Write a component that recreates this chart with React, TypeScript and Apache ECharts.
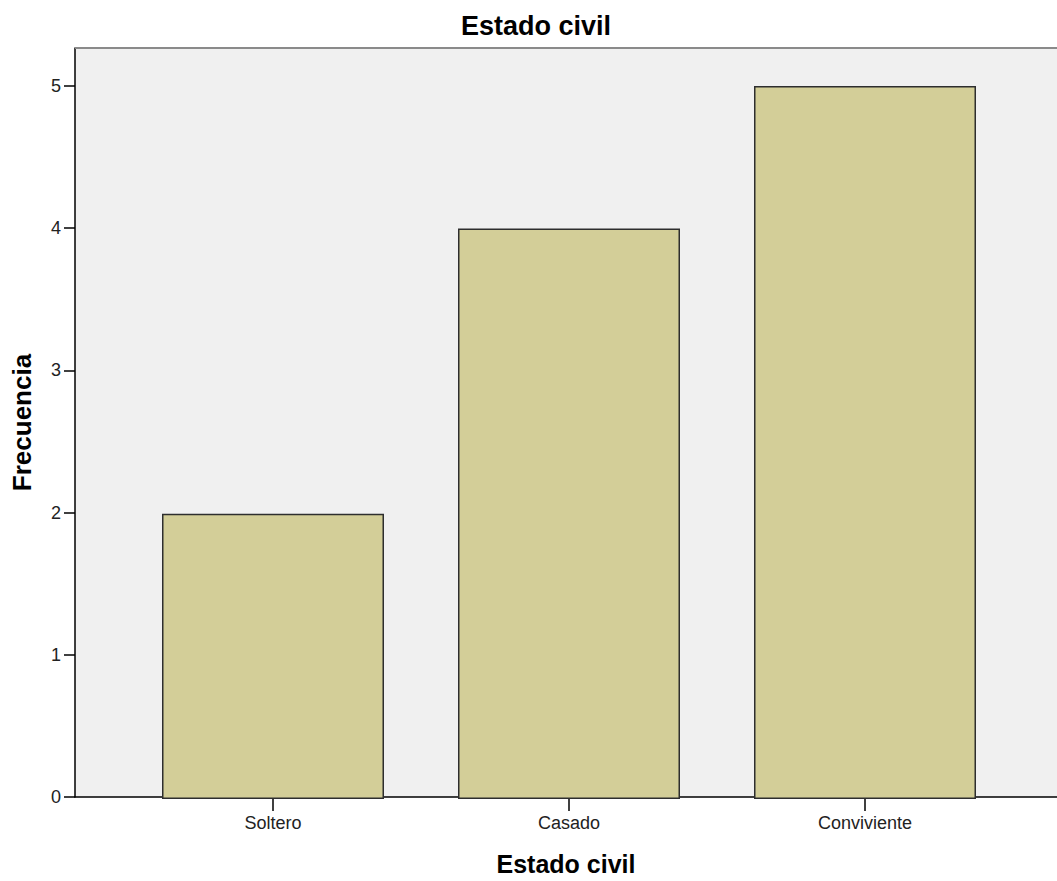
import React, { useEffect, useRef } from "react";
import * as echarts from "echarts";

const categories = ["Soltero", "Casado", "Conviviente"];
const frequencies = [2, 4, 5];
const yTicks = [0, 1, 2, 3, 4, 5];
const titleText = "Estado civil";
const xAxisTitle = "Estado civil";
const yAxisTitle = "Frecuencia";

const FONT = "'Liberation Sans', Arial, sans-serif";
const Y_MAX = 5.266;

export default function App() {
  const ref = useRef<HTMLDivElement>(null);
  useEffect(() => {
    if (!ref.current) return;
    const chart = echarts.init(ref.current, undefined, { renderer: "svg" });
    chart.setOption({
      animation: false,
      backgroundColor: "#ffffff",
      title: {
        text: titleText,
        left: 531,
        top: 7,
        textAlign: "center",
        textStyle: { fontFamily: FONT, fontSize: 27, fontWeight: "bold", color: "#000" },
      },
      grid: [
        { left: 75, right: 0, top: 48, bottom: 82, show: true, backgroundColor: "#f0f0f0", borderWidth: 0 },
        { left: 125, right: 44, top: 48, bottom: 82 },
      ],
      xAxis: [
        {
          type: "value",
          gridIndex: 0,
          min: 0,
          max: 1,
          axisLine: { show: true, onZero: false, lineStyle: { color: "#000", width: 1.5 } },
          axisTick: { show: false },
          axisLabel: { show: false },
          splitLine: { show: false },
          name: xAxisTitle,
          nameLocation: "middle",
          nameGap: 54,
          nameTextStyle: { fontFamily: FONT, fontSize: 25, fontWeight: "bold", color: "#000" },
        },
        {
          type: "category",
          gridIndex: 1,
          data: categories,
          axisLine: { show: false },
          axisTick: { show: true, alignWithLabel: true, length: 12, lineStyle: { color: "#000", width: 1.5 } },
          axisLabel: { margin: 15, fontFamily: FONT, fontSize: 18, color: "#222" },
        },
      ],
      yAxis: [
        {
          type: "value",
          gridIndex: 0,
          min: 0,
          max: Y_MAX,
          interval: 1,
          axisLine: { show: true, lineStyle: { color: "#000", width: 1.5 } },
          axisTick: { show: true, customValues: yTicks, length: 11, lineStyle: { color: "#000", width: 1.5 } },
          axisLabel: {
            customValues: yTicks,
            margin: 14,
            fontFamily: FONT,
            fontSize: 18,
            color: "#222",
          },
          splitLine: { show: false },
          name: yAxisTitle,
          nameLocation: "middle",
          nameGap: 40,
          nameRotate: 90,
          nameTextStyle: { fontFamily: FONT, fontSize: 26, fontWeight: "bold", color: "#000" },
        },
        {
          type: "value",
          gridIndex: 1,
          min: 0,
          max: Y_MAX,
          show: false,
          splitLine: { show: false },
        },
      ],
      graphic: [
        {
          type: "line",
          shape: { x1: 75, y1: 48, x2: 1057, y2: 48 },
          style: { stroke: "#8a8a8a", lineWidth: 2 },
          z: 100,
        },
      ],
      series: [
        {
          type: "bar",
          xAxisIndex: 1,
          yAxisIndex: 1,
          data: frequencies,
          barCategoryGap: "25%",
          itemStyle: { color: "#d3ce98", borderColor: "#2e2e2e", borderWidth: 1.5 },
        },
      ],
    });
    return () => chart.dispose();
  }, []);
  return <div ref={ref} style={{ position: "fixed", left: 0, top: 0, width: 1057, height: 881 }} />;
}
